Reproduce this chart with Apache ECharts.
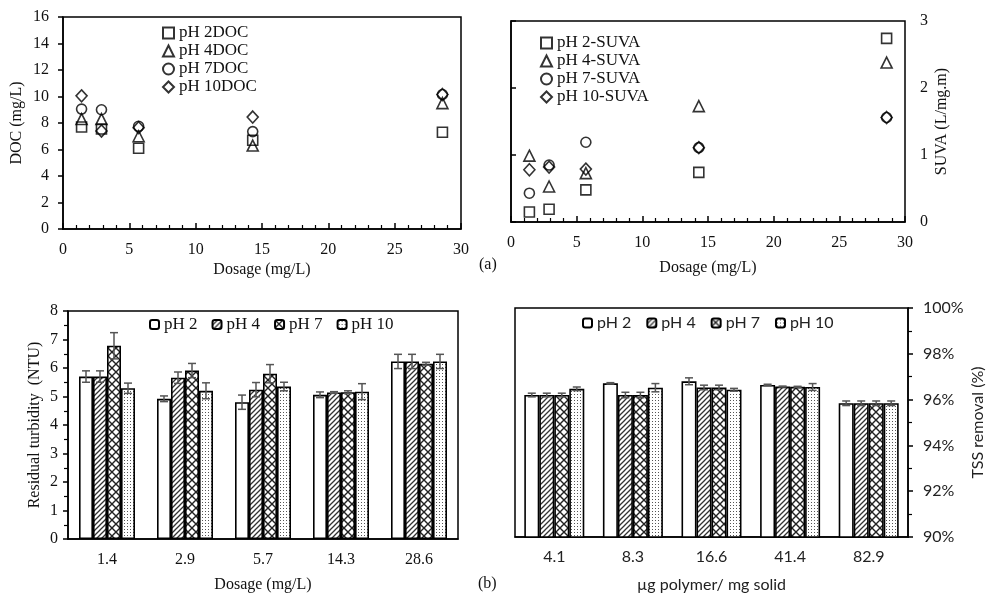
<!DOCTYPE html>
<html>
<head>
<meta charset="utf-8">
<script src="https://cdn.jsdelivr.net/npm/echarts@6/dist/echarts.min.js"></script>
<style>html,body{margin:0;padding:0;background:#fff;}#c{width:987px;height:596px;}</style>
</head>
<body>
<div id="c"></div>
<script>
// ---------- DATA ----------
const dosage = [1.4, 2.9, 5.7, 14.3, 28.6];

const docPH2 = [7.7, 7.55, 6.1, 6.7, 7.3];
const docPH4 = [8.3, 8.3, 7.0, 6.3, 9.5];
const docPH7 = [9.05, 9.0, 7.75, 7.35, 10.15];
const docPH10 = [10.05, 7.4, 7.65, 8.45, 10.15];

const suvaPH2 = [0.15, 0.19, 0.48, 0.74, 2.74];
const suvaPH4 = [0.99, 0.53, 0.73, 1.73, 2.38];
const suvaPH7 = [0.43, 0.85, 1.19, 1.11, 1.56];
const suvaPH10 = [0.78, 0.82, 0.79, 1.11, 1.56];

const turbCategories = ['1.4', '2.9', '5.7', '14.3', '28.6'];
const turbPH2 = [5.7, 4.92, 4.8, 5.06, 6.23];
const turbPH4 = [5.7, 5.66, 5.24, 5.14, 6.23];
const turbPH7 = [6.78, 5.91, 5.8, 5.15, 6.15];
const turbPH10 = [5.29, 5.2, 5.35, 5.17, 6.23];
const turbErrPH2 = [0.2, 0.1, 0.25, 0.1, 0.25];
const turbErrPH4 = [0.2, 0.2, 0.25, 0.03, 0.25];
const turbErrPH7 = [0.46, 0.25, 0.32, 0.05, 0.05];
const turbErrPH10 = [0.18, 0.28, 0.15, 0.28, 0.25];

const polymerCategories = ['4.1', '8.3', '16.6', '41.4', '82.9'];
const tssPH2 = [96.2, 96.71, 96.8, 96.64, 95.84];
const tssPH4 = [96.2, 96.2, 96.53, 96.57, 95.84];
const tssPH7 = [96.2, 96.2, 96.53, 96.56, 95.84];
const tssPH10 = [96.47, 96.52, 96.43, 96.55, 95.84];
const tssErrPH2 = [0.08, 0.03, 0.15, 0.03, 0.1];
const tssErrPH4 = [0.08, 0.12, 0.1, 0.02, 0.1];
const tssErrPH7 = [0.08, 0.12, 0.1, 0.02, 0.1];
const tssErrPH10 = [0.08, 0.18, 0.06, 0.15, 0.1];

const docNames = ['pH 2DOC', 'pH 4DOC', 'pH 7DOC', 'pH 10DOC'];
const suvaNames = ['pH 2-SUVA', 'pH 4-SUVA', 'pH 7-SUVA', 'pH 10-SUVA'];
const barNames = ['pH 2', 'pH 4', 'pH 7', 'pH 10'];

// ---------- STYLE HELPERS ----------
const SERIF = 'Liberation Serif';
const SANS = 'Lato';

function makePattern(kind) {
  const c = document.createElement('canvas');
  let s = kind === 'diag' ? 5 : (kind === 'cross' ? 8 : 3);
  c.width = s; c.height = s;
  const g = c.getContext('2d');
  g.fillStyle = '#fff'; g.fillRect(0, 0, s, s);
  if (kind === 'diag') {
    g.strokeStyle = '#333'; g.lineWidth = 1.3;
    g.beginPath();
    g.moveTo(-1, s + 1); g.lineTo(s + 1, -1);
    g.moveTo(-1, 1); g.lineTo(1, -1);
    g.moveTo(s - 1, s + 1); g.lineTo(s + 1, s - 1);
    g.stroke();
  } else if (kind === 'cross') {
    g.strokeStyle = '#222'; g.lineWidth = 1.4;
    g.beginPath();
    g.moveTo(0, 0); g.lineTo(s, s);
    g.moveTo(s, 0); g.lineTo(0, s);
    g.stroke();
  } else {
    g.fillStyle = '#555';
    g.fillRect(1, 1, 1, 1);
  }
  return { image: c, repeat: 'repeat' };
}
const fills = ['#ffffff', makePattern('diag'), makePattern('cross'), makePattern('dots')];

const symbols = ['rect', 'triangle', 'circle', 'diamond'];
const symbolSizes = [10, 11, 10, [11, 12]];

function scatterSeries(names, arrays, xi, yi) {
  return arrays.map((arr, i) => ({
    type: 'scatter', name: names[i], xAxisIndex: xi, yAxisIndex: yi,
    symbol: symbols[i], symbolSize: symbolSizes[i],
    itemStyle: { color: 'rgba(255,255,255,0)', borderColor: '#000', borderWidth: 1.6 },
    emphasis: { disabled: true },
    data: dosage.map((d, k) => [d, arr[k]])
  }));
}

function barSeries(arrays, xi, yi, bw) {
  return arrays.map((arr, i) => ({
    type: 'bar', name: barNames[i], xAxisIndex: xi, yAxisIndex: yi,
    barWidth: bw, barGap: '0%',
    itemStyle: { color: fills[i], borderColor: '#000', borderWidth: 1.6 },
    emphasis: { disabled: true },
    data: arr
  }));
}

function errSeries(arrays, errs, xi, yi, bw, tag) {
  return arrays.map((arr, i) => ({
    type: 'custom', name: tag + i, xAxisIndex: xi, yAxisIndex: yi, z: 5,
    silent: true,
    renderItem: function (params, api) {
      const ci = api.value(0), v = api.value(1), e = api.value(2);
      const top = api.coord([ci, v + e]);
      const bot = api.coord([ci, v - e]);
      const x = top[0] + (i - 1.5) * bw;
      const cap = 4;
      const st = { stroke: '#555', lineWidth: 1.5 };
      return { type: 'group', children: [
        { type: 'line', shape: { x1: x, y1: top[1], x2: x, y2: bot[1] }, style: st },
        { type: 'line', shape: { x1: x - cap, y1: top[1], x2: x + cap, y2: top[1] }, style: st },
        { type: 'line', shape: { x1: x - cap, y1: bot[1], x2: x + cap, y2: bot[1] }, style: st }
      ]};
    },
    encode: { x: 0, y: 1 },
    data: arr.map((v, k) => [k, v, errs[i][k]])
  }));
}

const axisLine = { show: true, lineStyle: { color: '#000', width: 1.5 } };
const serifLabel = { fontFamily: SERIF, fontSize: 16, color: '#111' };
const sansLabel = { fontFamily: SANS, fontSize: 16, color: '#222' };

const chart = echarts.init(document.getElementById('c'), null, { renderer: 'canvas' });

const option = {
  animation: false,
  backgroundColor: '#fff',
  grid: [
    { left: 63, top: 17, width: 398, height: 212, show: true, borderColor: '#000', borderWidth: 1.5, backgroundColor: 'transparent' },
    { left: 511, top: 21, width: 394, height: 201, show: true, borderColor: '#000', borderWidth: 1.5, backgroundColor: 'transparent' },
    { left: 68, top: 311, width: 390, height: 228, show: true, borderColor: '#000', borderWidth: 1.5, backgroundColor: 'transparent' },
    { left: 515, top: 308, width: 393, height: 229, show: true, borderColor: '#000', borderWidth: 1.5, backgroundColor: 'transparent' }
  ],
  xAxis: [
    { gridIndex: 0, type: 'value', min: 0, max: 30, interval: 5,
      axisLine: axisLine, splitLine: { show: false },
      axisTick: { show: true, inside: true, length: 6, lineStyle: { color: '#000', width: 1.5 } },
      minorTick: { show: true, splitNumber: 5, length: 4, lineStyle: { color: '#000', width: 1.2 } },
      axisLabel: Object.assign({ margin: 13 }, serifLabel),
      name: 'Dosage (mg/L)', nameLocation: 'middle', nameGap: 33,
      nameTextStyle: serifLabel },
    { gridIndex: 1, type: 'value', min: 0, max: 30, interval: 5,
      axisLine: axisLine, splitLine: { show: false },
      axisTick: { show: true, inside: true, length: 6, lineStyle: { color: '#000', width: 1.5 } },
      minorTick: { show: true, splitNumber: 5, length: 4, lineStyle: { color: '#000', width: 1.2 } },
      axisLabel: Object.assign({ margin: 13 }, serifLabel),
      name: 'Dosage (mg/L)', nameLocation: 'middle', nameGap: 38,
      nameTextStyle: serifLabel },
    { gridIndex: 2, type: 'category', data: turbCategories,
      axisLine: axisLine, axisTick: { show: false },
      axisLabel: Object.assign({ margin: 13 }, serifLabel),
      name: 'Dosage (mg/L)', nameLocation: 'middle', nameGap: 38,
      nameTextStyle: serifLabel },
    { gridIndex: 3, type: 'category', data: polymerCategories,
      axisLine: axisLine, axisTick: { show: false },
      axisLabel: Object.assign({ margin: 12 }, sansLabel),
      name: 'µg polymer/ mg solid', nameLocation: 'middle', nameGap: 40,
      nameTextStyle: sansLabel }
  ],
  yAxis: [
    { gridIndex: 0, type: 'value', min: 0, max: 16, interval: 2,
      axisLine: axisLine, splitLine: { show: false },
      axisTick: { show: true, length: 5, lineStyle: { color: '#000', width: 1.5 } },
      axisLabel: Object.assign({ margin: 14 }, serifLabel),
      name: 'DOC (mg/L)', nameLocation: 'middle', nameGap: 38, nameRotate: 90,
      nameTextStyle: serifLabel },
    { gridIndex: 1, type: 'value', position: 'right', min: 0, max: 3, interval: 1,
      axisLine: axisLine, splitLine: { show: false },
      axisTick: { show: true, length: 5, lineStyle: { color: '#000', width: 1.5 } },
      axisLabel: Object.assign({ margin: 15 }, serifLabel),
      name: 'SUVA (L/mg.m)', nameLocation: 'middle', nameGap: 29, nameRotate: 90,
      nameTextStyle: serifLabel },
    { gridIndex: 2, type: 'value', min: 0, max: 8, interval: 1,
      axisLine: axisLine, splitLine: { show: false },
      axisTick: { show: true, length: 5, lineStyle: { color: '#000', width: 1.5 } },
      minorTick: { show: true, splitNumber: 2, length: 4, lineStyle: { color: '#000', width: 1.2 } },
      axisLabel: Object.assign({ margin: 10 }, serifLabel),
      name: 'Residual turbidity  (NTU)', nameLocation: 'middle', nameGap: 25, nameRotate: 90,
      nameTextStyle: serifLabel },
    { gridIndex: 3, type: 'value', position: 'right', min: 90, max: 100, interval: 2,
      axisLine: axisLine, splitLine: { show: false },
      axisTick: { show: true, length: 5, lineStyle: { color: '#000', width: 1.5 } },
      minorTick: { show: true, splitNumber: 2, length: 4, lineStyle: { color: '#000', width: 1.2 } },
      axisLabel: Object.assign({ margin: 15, formatter: v => v + '%' }, sansLabel),
      name: 'TSS removal (%)', nameLocation: 'middle', nameGap: 62, nameRotate: 90,
      nameTextStyle: sansLabel }
  ],
  legend: [
    { data: docNames, orient: 'vertical', left: 157, top: 19, itemGap: 0,
      itemWidth: 11, itemHeight: 11, itemTextGap: 4, selectedMode: false,
      textStyle: { fontFamily: SERIF, fontSize: 17, color: '#111', lineHeight: 18 } },
    { data: suvaNames, orient: 'vertical', left: 535, top: 29, itemGap: 0,
      itemWidth: 11, itemHeight: 11, itemTextGap: 4, selectedMode: false,
      textStyle: { fontFamily: SERIF, fontSize: 17, color: '#111', lineHeight: 18 } },
    { data: barNames, orient: 'horizontal', left: 144, top: 311, itemGap: 14,
      itemWidth: 9, itemHeight: 9, itemTextGap: 2, selectedMode: false,
      textStyle: { fontFamily: SERIF, fontSize: 17, color: '#111' } },
    { data: barNames, orient: 'horizontal', left: 577, top: 310, itemGap: 15,
      itemWidth: 9, itemHeight: 9, itemTextGap: 3, selectedMode: false,
      textStyle: { fontFamily: SANS, fontSize: 16, color: '#222' } }
  ],
  graphic: [
    { type: 'text', left: 479, top: 257, style: { text: '(a)', font: '16px "Liberation Serif"', fill: '#111' } },
    { type: 'text', left: 478, top: 576, style: { text: '(b)', font: '16px "Liberation Serif"', fill: '#111' } }
  ],
  series: [].concat(
    scatterSeries(docNames, [docPH2, docPH4, docPH7, docPH10], 0, 0),
    scatterSeries(suvaNames, [suvaPH2, suvaPH4, suvaPH7, suvaPH10], 1, 1),
    barSeries([turbPH2, turbPH4, turbPH7, turbPH10], 2, 2, 14),
    errSeries([turbPH2, turbPH4, turbPH7, turbPH10], [turbErrPH2, turbErrPH4, turbErrPH7, turbErrPH10], 2, 2, 14, 'errT'),
    barSeries([tssPH2, tssPH4, tssPH7, tssPH10], 3, 3, 15),
    errSeries([tssPH2, tssPH4, tssPH7, tssPH10], [tssErrPH2, tssErrPH4, tssErrPH7, tssErrPH10], 3, 3, 15, 'errS')
  )
};
chart.setOption(option);
</script>
</body>
</html>
